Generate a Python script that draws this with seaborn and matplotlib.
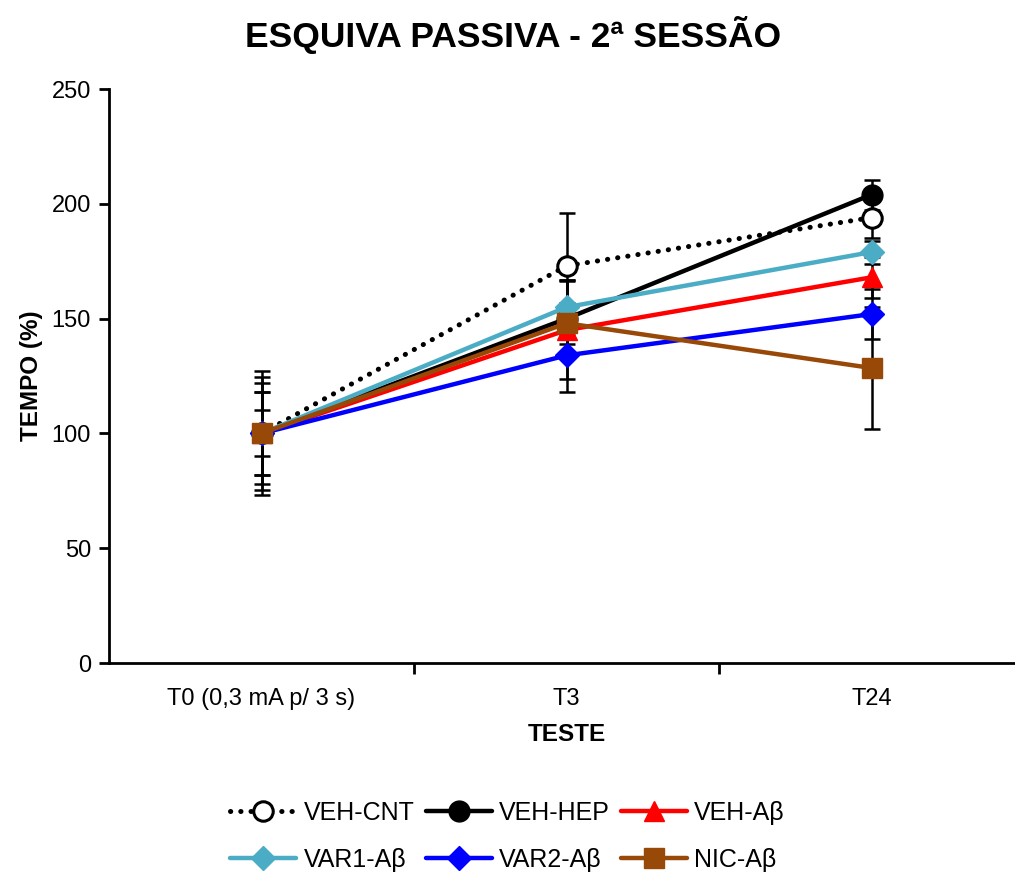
import numpy as np
import pandas as pd
import matplotlib
matplotlib.use("Agg")
import matplotlib.pyplot as plt
from matplotlib.ticker import FixedLocator
import seaborn as sns

# Data
testes = ['T0 (0,3 mA p/ 3 s)', 'T3', 'T24']
grupos = ['VEH-CNT', 'VEH-HEP', 'VEH-Aβ', 'VAR1-Aβ', 'VAR2-Aβ', 'NIC-Aβ']

veh_cnt = [100, 173, 194]
veh_hep = [100, 150, 204]
veh_ab = [100, 145, 168]
var1_ab = [100, 155, 179]
var2_ab = [100, 134, 152]
nic_ab = [100, 148, 128.5]

veh_cnt_err = [27, 23, 9]
veh_hep_err = [18, 17, 6.5]
veh_ab_err = [24.5, 21.5, 9]
var1_ab_err = [22, 12, 5]
var2_ab_err = [18, 16, 11]
nic_ab_err = [10, 9, 26.5]

medias = [veh_cnt, veh_hep, veh_ab, var1_ab, var2_ab, nic_ab]
erros = [veh_cnt_err, veh_hep_err, veh_ab_err, var1_ab_err, var2_ab_err, nic_ab_err]

cores = ['black', 'black', '#FF0000', '#4BACC6', '#0000FF', '#984807']
marcadores = ['o', 'o', '^', 'D', 'D', 's']
tamanhos = [14, 15, 15, 12, 12, 14]

sns.set_style("white")
plt.rcParams['font.family'] = ['Liberation Sans', 'DejaVu Sans']
plt.rcParams['text.color'] = 'black'
plt.rcParams['axes.labelcolor'] = 'black'
plt.rcParams['xtick.color'] = 'black'
plt.rcParams['ytick.color'] = 'black'

fig = plt.figure(figsize=(10.15, 8.73), dpi=100)
ax = fig.add_axes([0.1074, 0.2405, 0.9015, 0.6575])

# error bars behind the lines
for g, m, e in zip(grupos, medias, erros):
    ax.errorbar(testes, m, yerr=e, fmt='none', ecolor='black',
                elinewidth=1.8, capsize=5.5, capthick=1.8, zorder=1)

for i, (g, m) in enumerate(zip(grupos, medias)):
    df = pd.DataFrame({'teste': testes, 'tempo': m})
    if g == 'VEH-CNT':
        sns.lineplot(data=df, x='teste', y='tempo', ax=ax, color='black',
                     linewidth=3.6, linestyle=(0, (0.05, 2.0)),
                     dash_capstyle='round', marker='o', markersize=tamanhos[i],
                     markerfacecolor='white', markeredgecolor='black',
                     markeredgewidth=2.2, label=g, zorder=2 + i)
    else:
        sns.lineplot(data=df, x='teste', y='tempo', ax=ax, color=cores[i],
                     linewidth=3.2, marker=marcadores[i],
                     markersize=tamanhos[i], markerfacecolor=cores[i],
                     markeredgecolor=cores[i], markeredgewidth=1,
                     label=g, zorder=2 + i)

ax.set_xlim(-0.5, 2.5)
ax.set_ylim(0, 250)
ax.set_yticks(np.arange(0, 251, 50))
fig.suptitle('ESQUIVA PASSIVA - 2ª SESSÃO', x=0.505, y=0.982,
             fontsize=25.5, fontweight='bold')
ax.set_xlabel('TESTE', fontsize=17.5, fontweight='bold', labelpad=9)
ax.set_ylabel('TEMPO (%)', fontsize=17.5, fontweight='bold', labelpad=6)

sns.despine(ax=ax)
for s in ['left', 'bottom']:
    ax.spines[s].set_color('black')
    ax.spines[s].set_linewidth(2)

ax.tick_params(axis='y', which='major', direction='out', length=7, width=2,
               labelsize=17, left=True, pad=6)
ax.tick_params(axis='x', which='major', length=0, labelsize=17, pad=18)
ax.xaxis.set_minor_locator(FixedLocator([0.5, 1.5]))
ax.tick_params(axis='x', which='minor', direction='out', length=8, width=2,
               bottom=True)

handles, labels = ax.get_legend_handles_labels()
if ax.get_legend() is not None:
    ax.get_legend().remove()
# legend fills column-major, reorder so rows read like the reference
ordem = [0, 3, 1, 4, 2, 5]
fig.legend([handles[k] for k in ordem], [labels[k] for k in ordem],
           loc='center', bbox_to_anchor=(0.5, 0.042), ncol=3,
           frameon=False, fontsize=18, handlelength=2.65, handletextpad=0.28,
           columnspacing=0.45, labelspacing=0.9)

fig.savefig('out.png', dpi=100)
